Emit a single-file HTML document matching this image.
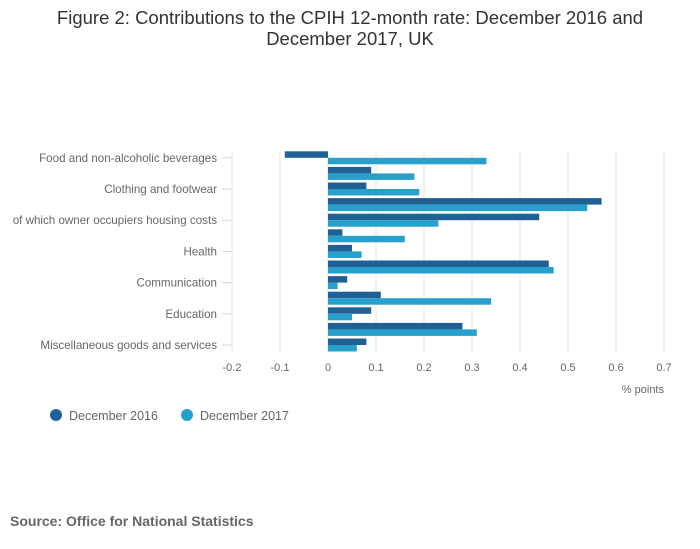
<!DOCTYPE html>
<html><head><meta charset="utf-8"><style>
body{margin:0;background:#fff;font-family:"Liberation Sans",sans-serif;}
#wrap{position:relative;width:700px;height:549px;overflow:hidden}
#title{position:absolute;left:0;top:7px;width:700px;text-align:center;font-size:18.5px;line-height:21px;color:#333}
#source{position:absolute;left:10px;top:513px;font-size:14px;font-weight:bold;color:#666}
</style></head><body>
<div id="wrap">
<div id="title">Figure 2: Contributions to the CPIH 12-month rate: December 2016 and<br>December 2017, UK</div>
<svg id="chart" width="700" height="549" style="position:absolute;left:0;top:0"></svg>
<div id="source">Source: Office for National Statistics</div>
</div>
<script>
const categories=["Food and non-alcoholic beverages","Alcohol and tobacco","Clothing and footwear","Housing and household services","of which owner occupiers housing costs","Furniture and household goods","Health","Transport","Communication","Recreation and culture","Education","Restaurants and hotels","Miscellaneous goods and services"];
const dec2016=[-0.09,0.09,0.08,0.57,0.44,0.03,0.05,0.46,0.04,0.11,0.09,0.28,0.08];
const dec2017=[0.33,0.18,0.19,0.54,0.23,0.16,0.07,0.47,0.02,0.34,0.05,0.31,0.06];
const ticks=[-0.2,-0.1,0,0.1,0.2,0.3,0.4,0.5,0.6,0.7];
const tickLabels=["-0.2","-0.1","0","0.1","0.2","0.3","0.4","0.5","0.6","0.7"];
const seriesNames=["December 2016","December 2017"];
const colors=["#206095","#27a0cc"];
const svg=document.getElementById('chart');const NS="http://www.w3.org/2000/svg";
function mk(t,a,p){const e=document.createElementNS(NS,t);for(const k in a)e.setAttribute(k,a[k]);(p||svg).appendChild(e);return e;}
const x=v=>328+v*480;
const top0=150,band=15.6;
const yc=i=>top0+band*(i+0.5);
ticks.forEach((t,i)=>{
const g=mk('line',{x1:x(t),x2:x(t),y1:150,y2:353,stroke:'#e6e6e6','stroke-width':1});

const tx=mk('text',{x:x(t),y:371,'text-anchor':'middle','font-size':11,fill:'#666'});tx.textContent=tickLabels[i];

});
categories.forEach((c,i)=>{
if(i%2===0){
const tl=mk('line',{x1:222,x2:232,y1:yc(i),y2:yc(i),stroke:'#ccd6eb'});

const tx=mk('text',{x:217,y:yc(i)+4,'text-anchor':'end','font-size':11.6,fill:'#666'});tx.textContent=c;
}
[dec2016,dec2017].forEach((s,j)=>{
const v=s[i];const x0=Math.min(x(0),x(v));
const r=mk('rect',{x:x0,y:yc(i)-6.5+j*6.5,width:Math.abs(x(v)-x(0)),height:6.5,fill:colors[j]});

});
});
const al=mk('text',{x:664,y:393,'text-anchor':'end','font-size':11,fill:'#666'});al.textContent='% points';

[56,187].forEach((lx,j)=>{
const c=mk('circle',{cx:lx,cy:415,r:6,fill:colors[j]});

const t=mk('text',{x:lx+13,y:420,'font-size':12.5,fill:'#666'});t.textContent=seriesNames[j];

});
</script>
</body></html>
